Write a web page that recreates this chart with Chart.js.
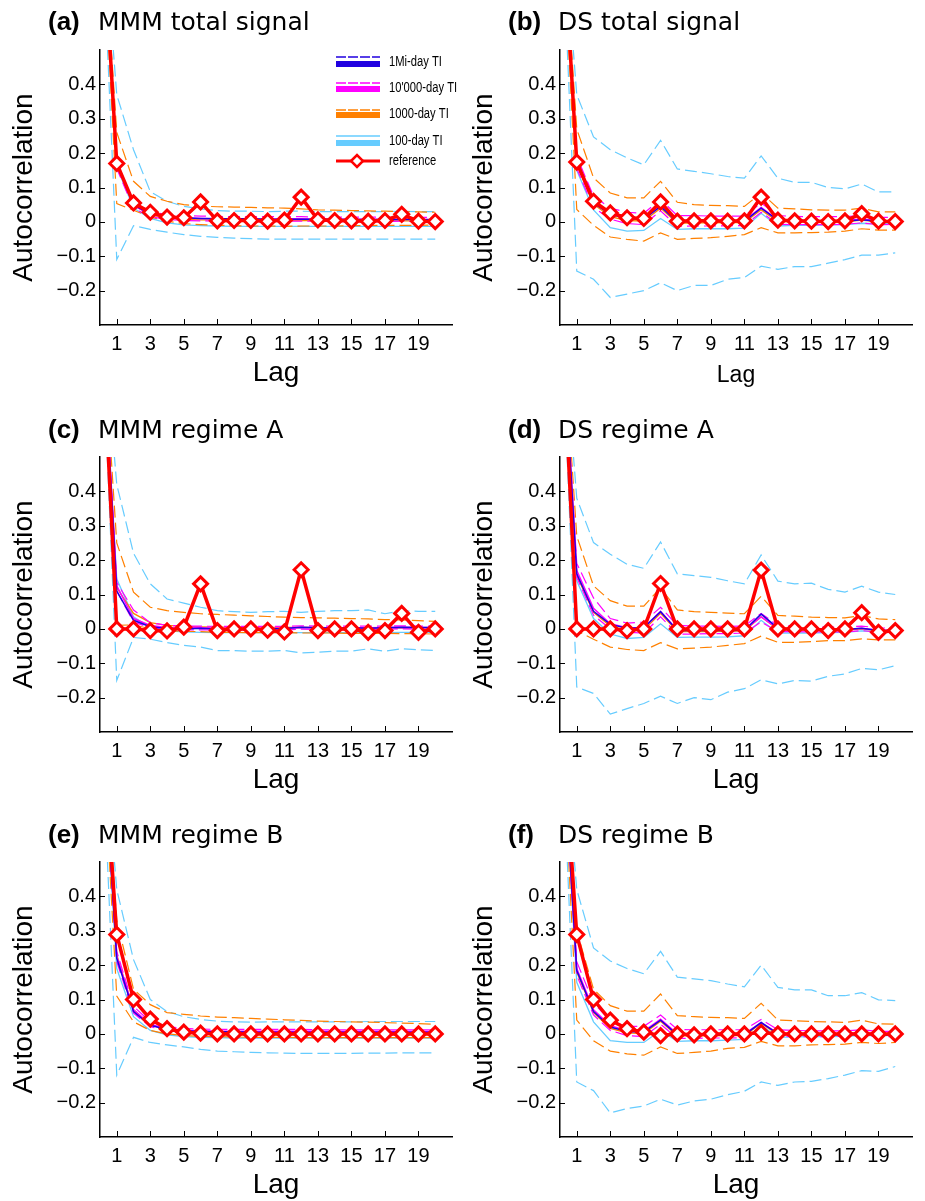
<!DOCTYPE html>
<html>
<head>
<meta charset="utf-8">
<script src="https://cdn.jsdelivr.net/npm/chart.js@4.4.1/dist/chart.umd.min.js"></script>
<style>
  body { margin: 0; background: #fff; width: 925px; height: 1201px; position: relative; overflow: hidden; }
  canvas { position: absolute; }
</style>
</head>
<body>
<canvas id="pa" width="462" height="389" style="left:0px;top:0px"></canvas>
<canvas id="pb" width="462" height="389" style="left:460px;top:0px"></canvas>
<canvas id="pc" width="462" height="390" style="left:0px;top:406px"></canvas>
<canvas id="pd" width="462" height="390" style="left:460px;top:406px"></canvas>
<canvas id="pe" width="462" height="391" style="left:0px;top:810px"></canvas>
<canvas id="pf" width="462" height="391" style="left:460px;top:810px"></canvas>
<script>
// lags 0..20, lag 0 = 1 for every series
const lags = [0, 1, 2, 3, 4, 5, 6, 7, 8, 9, 10, 11, 12, 13, 14, 15, 16, 17, 18, 19, 20];
const xTicks = [1, 3, 5, 7, 9, 11, 13, 15, 17, 19];
const yTicks = [-0.2, -0.1, 0, 0.1, 0.2, 0.3, 0.4];
const seriesNames = ['1Mi-day TI', "10'000-day TI", '1000-day TI', '100-day TI', 'reference'];

// (a) MMM total signal
const refA   = [1, 0.17, 0.055, 0.028, 0.014, 0.012, 0.058, 0.003, 0.004, 0.004, 0.002, 0.005, 0.072, 0.006, 0.004, 0.003, 0.002, 0.004, 0.022, 0.002, 0.001];
const miA    = [1, 0.168, 0.05, 0.023, 0.015, 0.012, 0.01, 0.009, 0.009, 0.009, 0.008, 0.008, 0.008, 0.008, 0.008, 0.007, 0.007, 0.007, 0.007, 0.007, 0.006];
const k10A   = [1, 0.165, 0.048, 0.022, 0.014, 0.011, 0.01, 0.009, 0.009, 0.008, 0.008, 0.009, 0.009, 0.008, 0.008, 0.008, 0.008, 0.007, 0.008, 0.007, 0.007];
const k10HiA = [1, 0.175, 0.058, 0.03, 0.021, 0.018, 0.017, 0.016, 0.015, 0.015, 0.015, 0.015, 0.015, 0.014, 0.014, 0.014, 0.014, 0.013, 0.013, 0.013, 0.013];
const k10LoA = [1, 0.155, 0.04, 0.015, 0.007, 0.004, 0.003, 0.002, 0.002, 0.002, 0.001, 0.002, 0.002, 0.002, 0.001, 0.001, 0.001, 0.001, 0.002, 0.001, 0.001];
const k1A    = [1, 0.165, 0.048, 0.02, 0.01, 0.007, 0.006, 0.005, 0.005, 0.004, 0.004, 0.004, 0.004, 0.004, 0.003, 0.003, 0.003, 0.003, 0.003, 0.003, 0.003];
const k1HiA  = [1, 0.26, 0.118, 0.074, 0.06, 0.05, 0.046, 0.044, 0.043, 0.042, 0.041, 0.04, 0.038, 0.035, 0.034, 0.033, 0.032, 0.031, 0.03, 0.029, 0.028];
const k1LoA  = [1, 0.053, 0.034, 0.014, 0.002, -0.005, -0.008, -0.01, -0.011, -0.012, -0.012, -0.013, -0.012, -0.012, -0.012, -0.011, -0.011, -0.01, -0.01, -0.01, -0.009];
const d1A    = [1, 0.16, 0.04, 0.01, -0.003, -0.009, -0.011, -0.012, -0.013, -0.013, -0.013, -0.013, -0.013, -0.013, -0.013, -0.013, -0.013, -0.013, -0.013, -0.013, -0.013];
const d1HiA  = [1, 0.37, 0.21, 0.088, 0.06, 0.045, 0.038, 0.033, 0.031, 0.031, 0.03, 0.031, 0.031, 0.03, 0.03, 0.03, 0.03, 0.03, 0.031, 0.03, 0.03];
const d1LoA  = [1, -0.109, -0.011, -0.022, -0.03, -0.037, -0.042, -0.045, -0.047, -0.049, -0.05, -0.05, -0.05, -0.05, -0.05, -0.05, -0.05, -0.05, -0.05, -0.05, -0.05];

// (b) DS total signal
const refB   = [1, 0.174, 0.06, 0.026, 0.012, 0.01, 0.058, 0.002, 0.003, 0.003, 0.002, 0.003, 0.072, 0.005, 0.003, 0.002, 0.001, 0.003, 0.024, 0.002, 0.001];
const miB    = [1, 0.17, 0.055, 0.022, 0.01, 0.008, 0.045, 0.0, 0.002, 0.002, 0.002, 0.002, 0.04, 0.005, 0.003, 0.002, 0.002, 0.002, 0.006, 0.002, 0.001];
const k10B   = [1, 0.172, 0.058, 0.024, 0.012, 0.01, 0.05, 0.003, 0.004, 0.004, 0.004, 0.004, 0.042, 0.006, 0.004, 0.004, 0.003, 0.004, 0.008, 0.003, 0.003];
const k10HiB = [1, 0.19, 0.075, 0.04, 0.028, 0.025, 0.065, 0.018, 0.018, 0.017, 0.017, 0.017, 0.055, 0.018, 0.016, 0.015, 0.015, 0.015, 0.018, 0.013, 0.013];
const k10LoB = [1, 0.155, 0.042, 0.008, -0.005, -0.008, 0.032, -0.013, -0.012, -0.012, -0.011, -0.011, 0.028, -0.007, -0.008, -0.008, -0.008, -0.007, -0.003, -0.008, -0.007];
const k1B    = [1, 0.165, 0.052, 0.015, 0.004, 0.002, 0.04, -0.004, -0.003, -0.003, -0.002, -0.002, 0.035, 0.001, 0.0, 0.0, 0.0, 0.0, 0.005, 0.0, 0.0];
const k1HiB  = [1, 0.27, 0.128, 0.084, 0.07, 0.07, 0.118, 0.057, 0.05, 0.048, 0.047, 0.045, 0.084, 0.04, 0.038, 0.035, 0.034, 0.034, 0.04, 0.029, 0.029];
const k1LoB  = [1, 0.036, -0.01, -0.044, -0.051, -0.056, -0.032, -0.051, -0.048, -0.046, -0.042, -0.037, -0.017, -0.032, -0.032, -0.031, -0.03, -0.027, -0.02, -0.024, -0.024];
const d1B    = [1, 0.15, 0.035, -0.017, -0.027, -0.025, 0.01, -0.022, -0.02, -0.02, -0.02, -0.018, 0.025, -0.012, -0.01, -0.01, -0.009, -0.008, -0.004, -0.006, -0.005];
const d1HiB  = [1, 0.37, 0.247, 0.21, 0.186, 0.166, 0.237, 0.154, 0.147, 0.14, 0.132, 0.127, 0.192, 0.127, 0.115, 0.115, 0.1, 0.096, 0.11, 0.087, 0.087];
const d1LoB  = [1, -0.143, -0.167, -0.22, -0.21, -0.2, -0.177, -0.2, -0.185, -0.185, -0.167, -0.162, -0.129, -0.138, -0.13, -0.13, -0.12, -0.11, -0.097, -0.097, -0.09];

// (c) MMM regime A
const refC   = [1, 0, 0, -0.005, -0.006, 0.005, 0.131, -0.005, 0, 0, -0.004, -0.009, 0.172, -0.005, 0, 0, -0.01, -0.005, 0.045, -0.01, 0];
const miC    = [1, 0.11, 0.025, 0.006, 0.001, 0.0, 0.002, 0.0, 0.0, 0.001, 0.0, 0.001, 0.005, 0.003, 0.002, 0.003, 0.002, 0.003, 0.005, 0.004, 0.004];
const k10C   = [1, 0.125, 0.03, 0.01, 0.004, 0.003, 0.003, 0.002, 0.002, 0.002, 0.002, 0.002, 0.004, 0.003, 0.003, 0.003, 0.003, 0.004, 0.005, 0.004, 0.004];
const k10HiC = [1, 0.135, 0.055, 0.018, 0.01, 0.008, 0.008, 0.007, 0.007, 0.007, 0.007, 0.007, 0.009, 0.008, 0.008, 0.008, 0.008, 0.008, 0.009, 0.008, 0.008];
const k10LoC = [1, 0.11, 0.02, 0.003, -0.002, -0.003, -0.003, -0.003, -0.003, -0.003, -0.003, -0.003, -0.001, -0.002, -0.002, -0.002, -0.002, -0.001, 0.0, -0.001, -0.001];
const k1C    = [1, 0.12, 0.045, 0.018, 0.01, 0.007, 0.006, 0.005, 0.004, 0.004, 0.004, 0.004, 0.004, 0.004, 0.003, 0.003, 0.003, 0.003, 0.003, 0.003, 0.003];
const k1HiC  = [1, 0.25, 0.107, 0.063, 0.053, 0.048, 0.044, 0.042, 0.04, 0.038, 0.036, 0.034, 0.033, 0.032, 0.031, 0.03, 0.029, 0.027, 0.026, 0.024, 0.022];
const k1LoC  = [1, 0.01, 0.012, 0.0, -0.005, -0.007, -0.008, -0.01, -0.01, -0.011, -0.011, -0.011, -0.012, -0.012, -0.012, -0.013, -0.013, -0.013, -0.014, -0.014, -0.015];
const d1C    = [1, 0.145, 0.035, 0.003, -0.006, -0.009, -0.01, -0.011, -0.011, -0.011, -0.011, -0.011, -0.011, -0.011, -0.011, -0.011, -0.01, -0.011, -0.01, -0.01, -0.01];
const d1HiC  = [1, 0.42, 0.22, 0.131, 0.087, 0.075, 0.063, 0.053, 0.05, 0.048, 0.05, 0.051, 0.048, 0.051, 0.053, 0.053, 0.055, 0.044, 0.053, 0.051, 0.051];
const d1LoC  = [1, -0.15, -0.025, -0.03, -0.04, -0.048, -0.053, -0.063, -0.063, -0.065, -0.065, -0.063, -0.07, -0.068, -0.065, -0.065, -0.058, -0.065, -0.058, -0.061, -0.063];

// (d) DS regime A
const refD   = [1, 0, 0, 0, -0.005, 0, 0.132, 0, 0, 0, 0, 0, 0.171, 0, 0, 0, -0.005, 0, 0.047, -0.01, -0.005];
const miD    = [1, 0.16, 0.051, 0.013, 0.002, 0.003, 0.05, -0.005, -0.005, -0.005, -0.005, -0.004, 0.043, 0.002, 0.001, 0.0, -0.002, -0.002, 0.002, -0.005, -0.005];
const k10D   = [1, 0.17, 0.06, 0.015, 0.003, 0.004, 0.05, -0.003, -0.003, -0.003, -0.003, -0.002, 0.035, 0.001, 0.0, -0.001, -0.002, -0.002, 0.002, -0.004, -0.004];
const k10HiD = [1, 0.19, 0.09, 0.03, 0.017, 0.02, 0.063, 0.01, 0.008, 0.008, 0.007, 0.008, 0.045, 0.01, 0.008, 0.006, 0.005, 0.005, 0.008, 0.003, 0.002];
const k10LoD = [1, 0.15, 0.04, 0.0, -0.01, -0.012, 0.035, -0.015, -0.015, -0.014, -0.014, -0.012, 0.02, -0.008, -0.008, -0.009, -0.009, -0.009, -0.005, -0.01, -0.01];
const k1D    = [1, 0.155, 0.048, 0.008, -0.003, -0.003, 0.045, -0.008, -0.008, -0.008, -0.007, -0.006, 0.035, -0.002, -0.003, -0.003, -0.004, -0.004, 0.0, -0.006, -0.006];
const k1HiD  = [1, 0.27, 0.125, 0.082, 0.066, 0.066, 0.12, 0.055, 0.05, 0.048, 0.046, 0.044, 0.095, 0.039, 0.037, 0.034, 0.033, 0.032, 0.039, 0.029, 0.027];
const k1LoD  = [1, -0.005, -0.03, -0.053, -0.06, -0.063, -0.04, -0.058, -0.056, -0.053, -0.048, -0.043, -0.021, -0.039, -0.039, -0.037, -0.034, -0.034, -0.029, -0.032, -0.032];
const d1D    = [1, 0.14, 0.03, -0.015, -0.028, -0.025, 0.015, -0.025, -0.024, -0.024, -0.023, -0.02, 0.025, -0.012, -0.012, -0.012, -0.011, -0.01, -0.006, -0.008, -0.008];
const d1HiD  = [1, 0.38, 0.251, 0.217, 0.188, 0.176, 0.253, 0.16, 0.155, 0.15, 0.14, 0.131, 0.215, 0.139, 0.131, 0.133, 0.115, 0.107, 0.124, 0.107, 0.1];
const d1LoD  = [1, -0.169, -0.188, -0.248, -0.232, -0.217, -0.196, -0.217, -0.2, -0.206, -0.184, -0.174, -0.148, -0.16, -0.15, -0.152, -0.138, -0.131, -0.115, -0.119, -0.107];

// (e) MMM regime B
const refE   = [1, 0.289, 0.1, 0.043, 0.015, 0.005, 0.002, 0.0, 0.0, 0.0, 0.0, 0.0, 0.0, 0.0, 0.0, 0.0, 0.0, 0.0, 0.0, 0.0, 0.0];
const miE    = [1, 0.22, 0.065, 0.025, 0.013, 0.009, 0.007, 0.006, 0.006, 0.005, 0.005, 0.005, 0.005, 0.005, 0.005, 0.005, 0.005, 0.005, 0.005, 0.005, 0.005];
const k10E   = [1, 0.225, 0.07, 0.028, 0.015, 0.011, 0.009, 0.008, 0.008, 0.008, 0.008, 0.008, 0.008, 0.008, 0.008, 0.008, 0.008, 0.008, 0.008, 0.008, 0.008];
const k10HiE = [1, 0.24, 0.08, 0.035, 0.021, 0.016, 0.014, 0.013, 0.013, 0.013, 0.013, 0.013, 0.013, 0.012, 0.012, 0.012, 0.012, 0.012, 0.012, 0.012, 0.012];
const k10LoE = [1, 0.21, 0.06, 0.021, 0.009, 0.005, 0.004, 0.003, 0.003, 0.003, 0.003, 0.003, 0.003, 0.003, 0.003, 0.003, 0.003, 0.003, 0.003, 0.003, 0.003];
const k1E    = [1, 0.23, 0.07, 0.027, 0.012, 0.007, 0.005, 0.004, 0.004, 0.003, 0.003, 0.003, 0.003, 0.003, 0.003, 0.003, 0.003, 0.003, 0.003, 0.003, 0.003];
const k1HiE  = [1, 0.33, 0.13, 0.085, 0.062, 0.057, 0.052, 0.049, 0.047, 0.045, 0.043, 0.041, 0.039, 0.037, 0.036, 0.035, 0.034, 0.033, 0.031, 0.03, 0.028];
const k1LoE  = [1, 0.11, 0.035, 0.01, 0.0, -0.005, -0.007, -0.008, -0.009, -0.01, -0.01, -0.01, -0.011, -0.011, -0.011, -0.011, -0.011, -0.011, -0.011, -0.011, -0.011];
const d1E    = [1, 0.19, 0.05, 0.01, -0.003, -0.008, -0.01, -0.011, -0.012, -0.012, -0.012, -0.012, -0.012, -0.012, -0.012, -0.012, -0.012, -0.012, -0.012, -0.012, -0.012];
const d1HiE  = [1, 0.42, 0.216, 0.1, 0.065, 0.05, 0.042, 0.037, 0.035, 0.034, 0.035, 0.035, 0.035, 0.035, 0.035, 0.035, 0.036, 0.036, 0.036, 0.036, 0.036];
const d1LoE  = [1, -0.12, -0.01, -0.025, -0.032, -0.038, -0.045, -0.05, -0.052, -0.054, -0.055, -0.056, -0.057, -0.057, -0.057, -0.057, -0.056, -0.056, -0.055, -0.055, -0.055];

// (f) DS regime B
const refF   = [1, 0.289, 0.1, 0.04, 0.015, 0.005, -0.005, 0, -0.003, 0, 0, 0, 0.004, 0, 0, 0, 0, 0, 0, 0, 0];
const miF    = [1, 0.184, 0.065, 0.02, 0.007, 0.005, 0.04, -0.003, -0.003, -0.003, -0.003, -0.003, 0.033, 0.0, -0.001, -0.002, -0.002, -0.002, 0.002, -0.003, -0.003];
const k10F   = [1, 0.19, 0.07, 0.024, 0.01, 0.008, 0.043, 0.0, 0.0, 0.0, 0.0, 0.0, 0.033, 0.002, 0.001, 0.0, 0.0, 0.0, 0.004, -0.001, -0.001];
const k10HiF = [1, 0.21, 0.09, 0.038, 0.022, 0.022, 0.055, 0.013, 0.012, 0.012, 0.012, 0.012, 0.042, 0.012, 0.01, 0.009, 0.009, 0.009, 0.012, 0.007, 0.007];
const k10LoF = [1, 0.17, 0.055, 0.01, -0.005, -0.008, 0.028, -0.013, -0.013, -0.012, -0.012, -0.011, 0.022, -0.007, -0.008, -0.008, -0.008, -0.007, -0.004, -0.008, -0.008];
const k1F    = [1, 0.18, 0.062, 0.016, 0.003, 0.001, 0.037, -0.006, -0.006, -0.006, -0.005, -0.005, 0.03, -0.002, -0.003, -0.003, -0.003, -0.003, 0.0, -0.004, -0.004];
const k1HiF  = [1, 0.3, 0.13, 0.082, 0.066, 0.066, 0.116, 0.053, 0.05, 0.048, 0.047, 0.045, 0.089, 0.04, 0.038, 0.036, 0.035, 0.033, 0.04, 0.029, 0.028];
const k1LoF  = [1, 0.04, -0.02, -0.05, -0.058, -0.062, -0.038, -0.057, -0.054, -0.05, -0.042, -0.039, -0.022, -0.035, -0.035, -0.032, -0.031, -0.03, -0.025, -0.028, -0.025];
const d1F    = [1, 0.15, 0.035, -0.02, -0.025, -0.025, 0.01, -0.022, -0.02, -0.02, -0.018, -0.016, 0.025, -0.01, -0.009, -0.008, -0.008, -0.007, -0.004, -0.005, -0.005];
const d1HiF  = [1, 0.42, 0.25, 0.212, 0.19, 0.175, 0.24, 0.165, 0.16, 0.155, 0.145, 0.137, 0.2, 0.135, 0.128, 0.128, 0.111, 0.111, 0.12, 0.099, 0.097];
const d1LoF  = [1, -0.14, -0.165, -0.23, -0.217, -0.21, -0.19, -0.207, -0.195, -0.19, -0.177, -0.167, -0.14, -0.15, -0.14, -0.138, -0.13, -0.12, -0.107, -0.109, -0.095];

const BLUE = '#2000e0', MAG = '#ff00ff', ORANGE = '#ff8000', SKY = '#66ccff', RED = '#ff0000';
const SANS = '"Liberation Sans", Arial, sans-serif';

const panels = [
  { id: 'pa', tag: '(a)', name: 'MMM total signal', base: 30, pad: 50, lagSize: 28, legend: true,
    ref: refA, mi: miA, k10: [k10A, k10HiA, k10LoA], k1: [k1A, k1HiA, k1LoA], d1: [d1A, d1HiA, d1LoA] },
  { id: 'pb', tag: '(b)', name: 'DS total signal', base: 30, pad: 50, lagSize: 23,
    ref: refB, mi: miB, k10: [k10B, k10HiB, k10LoB], k1: [k1B, k1HiB, k1LoB], d1: [d1B, d1HiB, d1LoB] },
  { id: 'pc', tag: '(c)', name: 'MMM regime A', base: 32, pad: 51, lagSize: 28,
    ref: refC, mi: miC, k10: [k10C, k10HiC, k10LoC], k1: [k1C, k1HiC, k1LoC], d1: [d1C, d1HiC, d1LoC] },
  { id: 'pd', tag: '(d)', name: 'DS regime A', base: 32, pad: 51, lagSize: 28,
    ref: refD, mi: miD, k10: [k10D, k10HiD, k10LoD], k1: [k1D, k1HiD, k1LoD], d1: [d1D, d1HiD, d1LoD] },
  { id: 'pe', tag: '(e)', name: 'MMM regime B', base: 33, pad: 52, lagSize: 28,
    ref: refE, mi: miE, k10: [k10E, k10HiE, k10LoE], k1: [k1E, k1HiE, k1LoE], d1: [d1E, d1HiE, d1LoE] },
  { id: 'pf', tag: '(f)', name: 'DS regime B', base: 33, pad: 52, lagSize: 28,
    ref: refF, mi: miF, k10: [k10F, k10HiF, k10LoF], k1: [k1F, k1HiF, k1LoF], d1: [d1F, d1HiF, d1LoF] }
];

function pts(arr) {
  return lags.map((x, i) => ({ x: x, y: arr[i] }));
}

function line(arr, color, dashed, width, order) {
  return {
    data: pts(arr), borderColor: color, borderWidth: width,
    borderDash: dashed ? [12, 5] : [], pointRadius: 0, fill: false, tension: 0, order: order
  };
}

function fmtTick(v) {
  if (Math.abs(v) < 1e-9) return '0';
  return v < 0 ? '\u2212' + Math.abs(v).toFixed(1) : v.toFixed(1);
}

const panelTitle = {
  id: 'panelTitle',
  afterDraw(chart, args, opts) {
    const ctx = chart.ctx;
    ctx.save();
    ctx.fillStyle = '#000';
    ctx.textBaseline = 'alphabetic';
    ctx.font = 'bold 26px ' + SANS;
    ctx.fillText(opts.tag, 48, opts.base);
    ctx.font = '25px "DejaVu Sans"';
    ctx.fillText(opts.name, 98, opts.base);
    ctx.restore();
  }
};

const inwardTicks = {
  id: 'inwardTicks',
  afterDraw(chart) {
    const { ctx, chartArea: a, scales: { x, y } } = chart;
    ctx.save();
    ctx.strokeStyle = '#000';
    ctx.lineWidth = 1;
    ctx.beginPath();
    xTicks.forEach(v => {
      const px = Math.round(x.getPixelForValue(v)) + 0.5;
      ctx.moveTo(px, a.bottom);
      ctx.lineTo(px, a.bottom - 6);
    });
    yTicks.forEach(v => {
      const py = Math.round(y.getPixelForValue(v)) + 0.5;
      ctx.moveTo(a.left, py);
      ctx.lineTo(a.left + 5, py);
    });
    ctx.stroke();
    ctx.restore();
  }
};

// legend of panel (a), drawn in its top right corner
const legendBox = {
  id: 'legendBox',
  afterDraw(chart) {
    const ctx = chart.ctx;
    const rows = [
      { color: BLUE, dashY: 57, barY: 64 },
      { color: MAG, dashY: 83, barY: 89 },
      { color: ORANGE, dashY: 110, barY: 115 },
      { color: SKY, dashY: 136, barY: 143 }
    ];
    const x0 = 336, x1 = 380, tx = 389;
    ctx.save();
    rows.forEach((r, i) => {
      ctx.strokeStyle = r.color;
      ctx.lineWidth = 1.5;
      ctx.setLineDash(i === 3 ? [] : [10, 2]);
      ctx.beginPath(); ctx.moveTo(x0, r.dashY); ctx.lineTo(x1, r.dashY); ctx.stroke();
      ctx.setLineDash([]);
      ctx.lineWidth = 6;
      ctx.beginPath(); ctx.moveTo(x0, r.barY); ctx.lineTo(x1, r.barY); ctx.stroke();
    });
    ctx.strokeStyle = RED;
    ctx.lineWidth = 3;
    ctx.beginPath(); ctx.moveTo(x0, 161); ctx.lineTo(x1, 161); ctx.stroke();
    ctx.fillStyle = '#fff';
    ctx.lineWidth = 2.5;
    ctx.beginPath();
    ctx.moveTo(357 - 6, 161); ctx.lineTo(357, 161 - 6); ctx.lineTo(357 + 6, 161); ctx.lineTo(357, 161 + 6);
    ctx.closePath(); ctx.fill(); ctx.stroke();

    ctx.fillStyle = '#000';
    ctx.font = '14px ' + SANS;
    ctx.textBaseline = 'middle';
    const ty = [62, 88, 114, 141, 161];
    seriesNames.forEach((t, i) => {
      ctx.save();
      ctx.translate(tx, ty[i]);
      ctx.scale(0.8, 1);
      ctx.fillText(t, 0, 0);
      ctx.restore();
    });
    ctx.restore();
  }
};

panels.forEach(p => {
  const datasets = [
    Object.assign(line(p.ref, RED, false, 3.5, 0), {
      pointRadius: 7, pointStyle: 'rectRot', pointBorderWidth: 3,
      pointBackgroundColor: '#fff', pointBorderColor: RED
    }),
    line(p.mi, BLUE, false, 1.5, 1),
    line(p.k10[0], MAG, false, 1.5, 2),
    line(p.k10[1], MAG, true, 1.2, 2),
    line(p.k10[2], MAG, true, 1.2, 2),
    line(p.k1[0], ORANGE, false, 1.3, 3),
    line(p.k1[1], ORANGE, true, 1.2, 3),
    line(p.k1[2], ORANGE, true, 1.2, 3),
    line(p.d1[0], SKY, false, 1.3, 4),
    line(p.d1[1], SKY, true, 1.2, 4),
    line(p.d1[2], SKY, true, 1.2, 4)
  ];
  const plugins = [panelTitle, inwardTicks];
  if (p.legend) plugins.push(legendBox);
  new Chart(document.getElementById(p.id), {
    type: 'line',
    data: { datasets: datasets },
    plugins: plugins,
    options: {
      responsive: false,
      animation: false,
      events: [],
      layout: { padding: { top: p.pad, right: 2, left: 0, bottom: 0 } },
      plugins: {
        legend: { display: false },
        tooltip: { enabled: false },
        panelTitle: { tag: p.tag, name: p.name, base: p.base }
      },
      scales: {
        x: {
          type: 'linear', min: 0, max: 21,
          afterBuildTicks: s => { s.ticks = xTicks.map(v => ({ value: v })); },
          afterFit: s => { s.height = 64; },
          grid: { display: false, drawTicks: false },
          border: { display: true, color: '#000', width: 1.5 },
          ticks: { autoSkip: false, maxRotation: 0, padding: 7, color: '#000', font: { family: SANS, size: 20 } },
          title: { display: true, text: 'Lag', color: '#000', font: { family: SANS, size: p.lagSize, lineHeight: 1 }, padding: { top: 0, bottom: 2 } }
        },
        y: {
          min: -0.3, max: 0.5,
          afterBuildTicks: s => { s.ticks = yTicks.map(v => ({ value: v })); },
          afterFit: s => { s.width = 100; },
          grid: { display: false, drawTicks: false },
          border: { display: true, color: '#000', width: 1.5 },
          ticks: { padding: 4, color: '#000', font: { family: SANS, size: 20 }, callback: v => fmtTick(v) },
          title: { display: true, text: 'Autocorrelation', color: '#000', font: { family: SANS, size: 28, lineHeight: 1 }, padding: { top: 10, bottom: 0 } }
        }
      }
    }
  });
});
</script>
</body>
</html>
